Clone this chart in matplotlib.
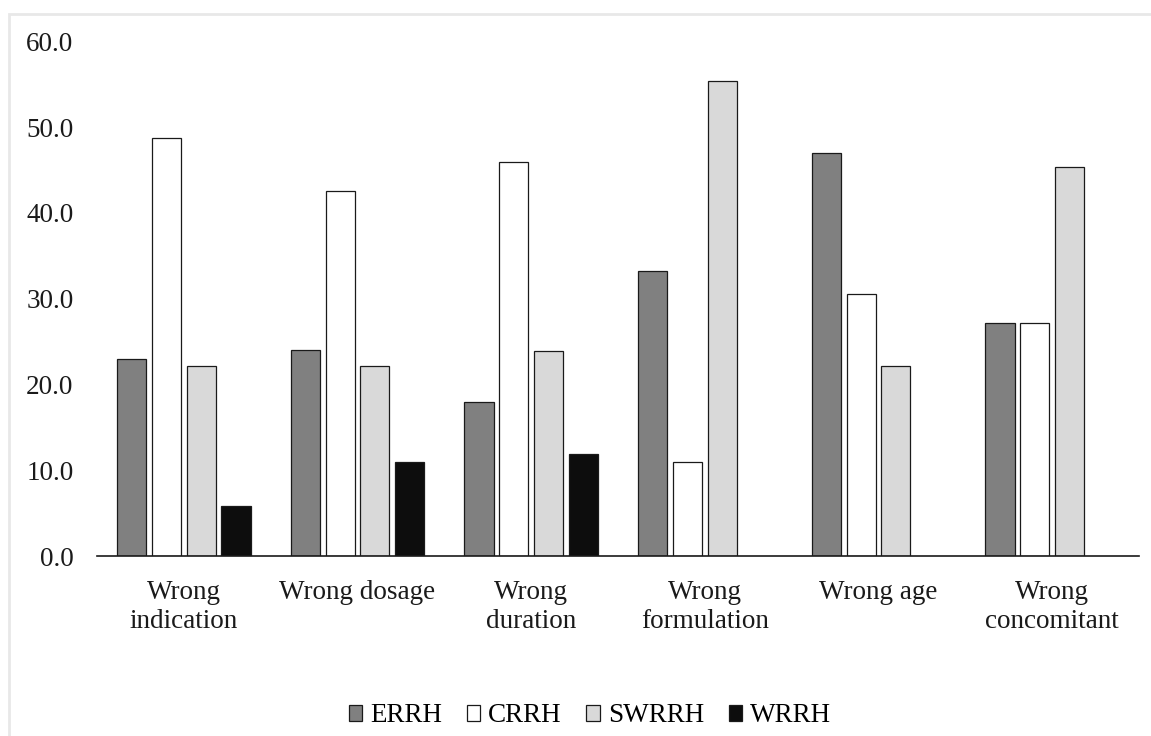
import matplotlib
matplotlib.use('Agg')
import matplotlib.pyplot as plt
import numpy as np
from matplotlib.patches import Rectangle

plt.rcParams['font.family'] = ['Liberation Serif', 'DejaVu Serif']

# data
categories = ['Wrong\nindication', 'Wrong dosage', 'Wrong\nduration',
              'Wrong\nformulation', 'Wrong age', 'Wrong\nconcomitant']
series = ['ERRH', 'CRRH', 'SWRRH', 'WRRH']
errh = [23.0, 24.0, 18.0, 33.2, 47.0, 27.2]
crrh = [48.7, 42.6, 45.9, 11.0, 30.5, 27.2]
swrrh = [22.2, 22.1, 23.9, 55.4, 22.1, 45.4]
wrrh = [5.8, 11.0, 11.9, np.nan, np.nan, np.nan]
yticks = [0, 10, 20, 30, 40, 50, 60]

colors = ['#808080', '#ffffff', '#d9d9d9', '#0d0d0d']

fig = plt.figure(figsize=(11.51, 7.36), dpi=100)
ax = fig.add_axes([97/1151, 1 - 556/736, (1139-97)/1151, (556-41.5)/736])

x = np.arange(len(categories))
w = 0.2
for i, (name, vals) in enumerate(zip(series, [errh, crrh, swrrh, wrrh])):
    ax.bar(x + (i - 1.5) * w, vals, width=0.168, color=colors[i],
           edgecolor='#1a1a1a', linewidth=0.9, label=name)

ax.set_xlim(-0.5, len(categories) - 0.5)
ax.set_ylim(0, 60)
ax.set_yticks(yticks)
ax.set_yticklabels(['%.1f' % t for t in yticks])
ax.set_xticks(x)
ax.set_xticklabels(categories, linespacing=1.25)
ax.tick_params(axis='both', length=0, labelsize=19.5, colors='#1a1a1a')
ax.tick_params(axis='y', pad=17)
ax.tick_params(axis='x', pad=17)
for s in ['top', 'right', 'left']:
    ax.spines[s].set_visible(False)
ax.spines['bottom'].set_linewidth(1.2)
ax.spines['bottom'].set_color('#1a1a1a')

fig.legend(loc='center', bbox_to_anchor=(590/1151, 1 - 716/736), ncol=4,
           frameon=False, fontsize=19.5, handlelength=0.5, handleheight=0.5,
           handletextpad=0.3, columnspacing=0.9)

# light frame around the chart area
fig.patches.append(Rectangle((9/1151, -0.1), 1.2, 1.1 - 14/736,
                             transform=fig.transFigure, fill=False,
                             edgecolor='#e8e8e8', linewidth=2))

fig.savefig('out.png', dpi=100)
